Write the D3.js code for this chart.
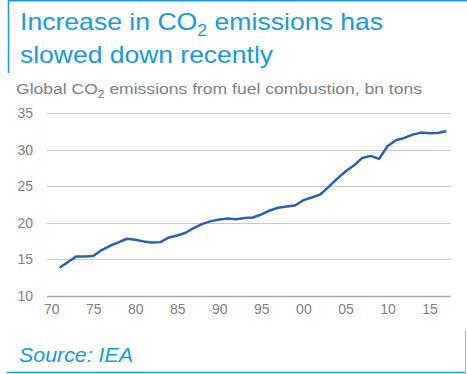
<!DOCTYPE html>
<html><head><meta charset="utf-8">
<script src="https://cdn.jsdelivr.net/npm/d3@7"></script>
<style>body{margin:0;background:#fff}svg{display:block;font-family:"Liberation Sans",Arial,sans-serif}</style>
</head><body>
<script>
const years = d3.range(1971, 2018);
const emissions = [13.86,14.64,15.41,15.41,15.45,16.27,16.86,17.32,17.82,17.68,17.46,17.32,17.36,18.0,18.27,18.64,19.32,19.86,20.23,20.45,20.59,20.5,20.64,20.73,21.14,21.68,22.05,22.23,22.36,23.09,23.45,23.86,24.9,26.0,27.0,27.82,28.86,29.14,28.73,30.45,31.27,31.59,32.05,32.32,32.23,32.27,32.55];
const yTicks = [10,15,20,25,30,35];
const xTickYears = [1970,1975,1980,1985,1990,1995,2000,2005,2010,2015];
const xTickLabels = ["70","75","80","85","90","95","00","05","10","15"];

const W=467,H=374;
const blue="#1a9ad9", grey="#808080";
const svg=d3.select("body").append("svg").attr("width",W).attr("height",H);

// frame lines
svg.append("line").attr("x1",8).attr("x2",W).attr("y1",0.75).attr("y2",0.75).attr("stroke",blue).attr("stroke-width",1.5);
svg.append("line").attr("x1",8.5).attr("x2",8.5).attr("y1",0).attr("y2",73).attr("stroke",blue).attr("stroke-width",1.5);
svg.append("line").attr("x1",7).attr("x2",466).attr("y1",372.5).attr("y2",372.5).attr("stroke",blue).attr("stroke-width",1.5);
svg.append("line").attr("x1",465.5).attr("x2",465.5).attr("y1",330).attr("y2",373).attr("stroke","#7cc3ea").attr("stroke-width",1);

// title
const t1=svg.append("text").attr("x",20).attr("y",29.5).attr("fill",blue).attr("font-size",24)
  .attr("textLength",363).attr("lengthAdjust","spacingAndGlyphs");
t1.append("tspan").text("Increase in CO");
t1.append("tspan").text("2").attr("font-size",16).attr("dy",6);
t1.append("tspan").text(" emissions has").attr("dy",-6);
svg.append("text").attr("x",20).attr("y",63).attr("fill",blue).attr("font-size",24)
  .attr("textLength",253).attr("lengthAdjust","spacingAndGlyphs").text("slowed down recently");

// subtitle
const st=svg.append("text").attr("x",16).attr("y",94).attr("fill",grey).attr("font-size",14.5)
  .attr("textLength",406).attr("lengthAdjust","spacingAndGlyphs");
st.append("tspan").text("Global CO");
st.append("tspan").text("2").attr("font-size",10).attr("dy",4);
st.append("tspan").text(" emissions from fuel combustion, bn tons").attr("dy",-4);

const x=d3.scaleLinear().domain([1969.5,2017.5]).range([47,450.5]);
const y=d3.scaleLinear().domain([10,35]).range([296,113]);

// grid
const g=svg.append("g");
g.selectAll("line.grid").data(yTicks).join("line")
 .attr("x1",47).attr("x2",450.5).attr("y1",d=>Math.round(y(d))+0.5).attr("y2",d=>Math.round(y(d))+0.5)
 .attr("stroke",d=>d===10?"#a6a6a6":"#c8c8c8").attr("stroke-width",d=>d===10?1.5:1);

// y axis labels
const yAxis=d3.axisLeft(y).tickValues(yTicks).tickSize(0).tickPadding(0);
svg.append("g").attr("transform","translate(33,0)").call(yAxis)
 .call(s=>s.select(".domain").remove())
 .call(s=>s.selectAll("text").attr("fill",grey).attr("font-size",14).attr("font-family","Liberation Sans, Arial, sans-serif"));

// x axis labels
const xAxis=d3.axisBottom(x).tickValues(xTickYears).tickFormat((d,i)=>xTickLabels[i]).tickSize(0).tickPadding(0);
svg.append("g").attr("transform","translate(0,304)").call(xAxis)
 .call(s=>s.select(".domain").remove())
 .call(s=>s.selectAll("text").attr("fill",grey).attr("font-size",14).attr("font-family","Liberation Sans, Arial, sans-serif"));

// line
const line=d3.line().x((d,i)=>x(years[i])).y(d=>y(d));
svg.append("path").datum(emissions).attr("d",line).attr("fill","none").attr("stroke","#2f5faf").attr("stroke-width",2.5).attr("stroke-linejoin","round");

// source
svg.append("text").attr("x",19).attr("y",362).attr("fill",blue).attr("font-size",21).attr("font-style","italic")
  .attr("textLength",114).attr("lengthAdjust","spacingAndGlyphs").text("Source: IEA");
</script>
</body></html>
